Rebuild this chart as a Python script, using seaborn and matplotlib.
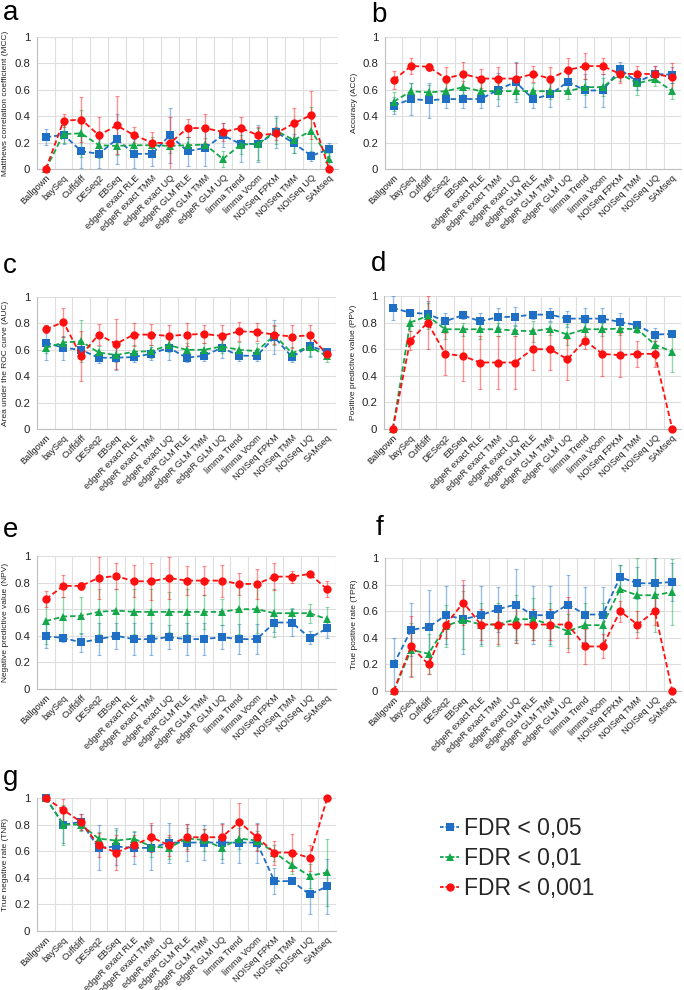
import numpy as np
import pandas as pd
import matplotlib
matplotlib.use("Agg")
import matplotlib.pyplot as plt
import seaborn as sns
from matplotlib.lines import Line2D

sns.set_style("white")
plt.rcParams["font.family"] = ["Liberation Sans", "DejaVu Sans"]

methods = ["Ballgown", "baySeq", "Cuffdiff", "DESeq2", "EBSeq", "edgeR exact RLE",
           "edgeR exact TMM", "edgeR exact UQ", "edgeR GLM RLE", "edgeR GLM TMM",
           "edgeR GLM UQ", "limma Trend", "limma Voom", "NOISeq FPKM", "NOISeq TMM",
           "NOISeq UQ", "SAMseq"]
fdr_labels = ["FDR < 0,05", "FDR < 0,01", "FDR < 0,001"]
ytick_vals = [0, 0.2, 0.4, 0.6, 0.8, 1]
ytick_labels = ["0", "0.2", "0.4", "0.6", "0.8", "1"]

# ---- a: MCC
mcc_05 = [0.24, 0.26, 0.135, 0.115, 0.225, 0.115, 0.115, 0.255, 0.135, 0.16, 0.255, 0.19, 0.19, 0.28, 0.195, 0.10, 0.15]
mcc_01 = [0.0, 0.265, 0.27, 0.18, 0.175, 0.18, 0.18, 0.175, 0.18, 0.185, 0.075, 0.185, 0.19, 0.29, 0.22, 0.29, 0.075]
mcc_001 = [0.0, 0.365, 0.375, 0.255, 0.33, 0.255, 0.20, 0.195, 0.31, 0.31, 0.28, 0.31, 0.255, 0.27, 0.345, 0.41, 0.0]
mcc_05_err = [0.06, 0.07, 0.13, 0.11, 0.19, 0.11, 0.09, 0.21, 0.11, 0.14, 0.09, 0.14, 0.14, 0.12, 0.07, 0.04, 0.05]
mcc_01_err = [0.0, 0.07, 0.18, 0.10, 0.07, 0.06, 0.06, 0.05, 0.06, 0.05, 0.06, 0.07, 0.12, 0.10, 0.10, 0.18, 0.05]
mcc_001_err = [0.0, 0.05, 0.17, 0.14, 0.22, 0.06, 0.08, 0.20, 0.07, 0.11, 0.07, 0.085, 0.06, 0.05, 0.12, 0.18, 0.0]

# ---- b: ACC
acc_05 = [0.48, 0.53, 0.52, 0.53, 0.53, 0.53, 0.60, 0.66, 0.53, 0.565, 0.66, 0.595, 0.595, 0.755, 0.66, 0.72, 0.715]
acc_01 = [0.51, 0.59, 0.58, 0.59, 0.62, 0.59, 0.59, 0.59, 0.59, 0.59, 0.59, 0.62, 0.62, 0.72, 0.65, 0.68, 0.59]
acc_001 = [0.675, 0.78, 0.775, 0.685, 0.72, 0.685, 0.685, 0.685, 0.72, 0.685, 0.75, 0.78, 0.78, 0.72, 0.72, 0.72, 0.695]
acc_05_err = [0.065, 0.12, 0.13, 0.065, 0.065, 0.065, 0.125, 0.15, 0.065, 0.095, 0.06, 0.125, 0.125, 0.055, 0.06, 0.06, 0.06]
acc_01_err = [0.07, 0.06, 0.06, 0.06, 0.05, 0.06, 0.06, 0.06, 0.06, 0.06, 0.06, 0.06, 0.07, 0.05, 0.09, 0.05, 0.06]
acc_001_err = [0.07, 0.06, 0.03, 0.09, 0.09, 0.07, 0.09, 0.12, 0.06, 0.09, 0.09, 0.10, 0.06, 0.07, 0.06, 0.06, 0.11]

# ---- c: AUC
auc_05 = [0.655, 0.615, 0.60, 0.54, 0.54, 0.545, 0.57, 0.615, 0.54, 0.555, 0.615, 0.555, 0.555, 0.695, 0.545, 0.63, 0.585]
auc_01 = [0.615, 0.655, 0.665, 0.58, 0.56, 0.585, 0.59, 0.635, 0.60, 0.60, 0.625, 0.60, 0.59, 0.71, 0.575, 0.625, 0.55]
auc_001 = [0.755, 0.81, 0.555, 0.715, 0.645, 0.715, 0.715, 0.705, 0.715, 0.72, 0.705, 0.74, 0.735, 0.715, 0.70, 0.71, 0.565]
auc_05_err = [0.13, 0.09, 0.06, 0.04, 0.09, 0.04, 0.05, 0.09, 0.03, 0.04, 0.08, 0.04, 0.04, 0.13, 0.04, 0.08, 0.03]
auc_01_err = [0.04, 0.04, 0.16, 0.05, 0.05, 0.05, 0.05, 0.05, 0.05, 0.05, 0.05, 0.06, 0.06, 0.07, 0.05, 0.08, 0.04]
auc_001_err = [0.03, 0.11, 0.19, 0.08, 0.19, 0.085, 0.08, 0.08, 0.085, 0.07, 0.085, 0.07, 0.07, 0.07, 0.09, 0.08, 0.03]

# ---- d: PPV
ppv_05 = [0.91, 0.875, 0.865, 0.81, 0.855, 0.81, 0.84, 0.845, 0.86, 0.86, 0.83, 0.83, 0.83, 0.805, 0.78, 0.71, 0.715]
ppv_01 = [0.0, 0.80, 0.85, 0.75, 0.75, 0.75, 0.75, 0.74, 0.735, 0.755, 0.71, 0.75, 0.75, 0.755, 0.75, 0.635, 0.58]
ppv_001 = [0.0, 0.665, 0.80, 0.565, 0.55, 0.50, 0.50, 0.50, 0.60, 0.60, 0.525, 0.665, 0.565, 0.555, 0.565, 0.565, 0.0]
ppv_05_err = [0.09, 0.02, 0.10, 0.06, 0.03, 0.06, 0.07, 0.07, 0.03, 0.05, 0.06, 0.08, 0.08, 0.07, 0.03, 0.05, 0.0]
ppv_01_err = [0.0, 0.06, 0.10, 0.07, 0.05, 0.07, 0.05, 0.04, 0.08, 0.05, 0.08, 0.05, 0.05, 0.05, 0.03, 0.05, 0.15]
ppv_001_err = [0.0, 0.07, 0.20, 0.16, 0.19, 0.20, 0.20, 0.20, 0.155, 0.155, 0.155, 0.065, 0.165, 0.165, 0.10, 0.10, 0.0]

# ---- e: NPV
npv_05 = [0.395, 0.385, 0.35, 0.375, 0.40, 0.375, 0.375, 0.39, 0.375, 0.375, 0.39, 0.375, 0.375, 0.50, 0.50, 0.385, 0.455]
npv_01 = [0.51, 0.545, 0.55, 0.58, 0.59, 0.58, 0.58, 0.58, 0.58, 0.58, 0.58, 0.60, 0.60, 0.57, 0.57, 0.57, 0.525]
npv_001 = [0.675, 0.775, 0.775, 0.835, 0.85, 0.81, 0.81, 0.835, 0.815, 0.815, 0.815, 0.79, 0.79, 0.845, 0.845, 0.865, 0.75]
npv_05_err = [0.09, 0.03, 0.07, 0.12, 0.10, 0.12, 0.12, 0.09, 0.12, 0.12, 0.09, 0.11, 0.11, 0.07, 0.10, 0.05, 0.07]
npv_01_err = [0.17, 0.15, 0.14, 0.17, 0.16, 0.17, 0.17, 0.15, 0.17, 0.13, 0.10, 0.19, 0.18, 0.18, 0.04, 0.07, 0.09]
npv_001_err = [0.06, 0.08, 0.03, 0.16, 0.10, 0.12, 0.14, 0.16, 0.11, 0.11, 0.12, 0.08, 0.11, 0.10, 0.045, 0.02, 0.06]

# ---- f: TPR
tpr_05 = [0.20, 0.46, 0.48, 0.57, 0.54, 0.57, 0.615, 0.65, 0.57, 0.57, 0.65, 0.575, 0.575, 0.855, 0.81, 0.81, 0.82]
tpr_01 = [0.0, 0.31, 0.28, 0.49, 0.535, 0.50, 0.50, 0.54, 0.54, 0.50, 0.45, 0.495, 0.495, 0.765, 0.72, 0.72, 0.745]
tpr_001 = [0.0, 0.335, 0.20, 0.50, 0.665, 0.50, 0.50, 0.50, 0.50, 0.50, 0.50, 0.335, 0.335, 0.60, 0.50, 0.60, 0.0]
tpr_05_err = [0.20, 0.20, 0.28, 0.22, 0.26, 0.22, 0.17, 0.27, 0.22, 0.22, 0.22, 0.21, 0.21, 0.09, 0.12, 0.19, 0.14]
tpr_01_err = [0.0, 0.20, 0.15, 0.16, 0.22, 0.16, 0.16, 0.18, 0.16, 0.16, 0.13, 0.17, 0.17, 0.18, 0.28, 0.28, 0.25]
tpr_001_err = [0.0, 0.23, 0.07, 0.10, 0.17, 0.12, 0.15, 0.14, 0.12, 0.12, 0.21, 0.13, 0.09, 0.08, 0.10, 0.10, 0.0]

# ---- g: TNR
tnr_05 = [1.0, 0.80, 0.82, 0.625, 0.635, 0.625, 0.625, 0.665, 0.665, 0.665, 0.665, 0.665, 0.665, 0.375, 0.375, 0.275, 0.335]
tnr_01 = [1.0, 0.80, 0.80, 0.695, 0.68, 0.695, 0.635, 0.625, 0.695, 0.685, 0.625, 0.695, 0.68, 0.59, 0.495, 0.415, 0.44]
tnr_001 = [1.0, 0.91, 0.82, 0.645, 0.59, 0.645, 0.705, 0.645, 0.705, 0.705, 0.705, 0.82, 0.705, 0.59, 0.59, 0.55, 1.0]
tnr_05_err = [0.0, 0.14, 0.06, 0.17, 0.14, 0.12, 0.17, 0.15, 0.14, 0.13, 0.15, 0.15, 0.15, 0.10, 0.02, 0.15, 0.21]
tnr_01_err = [0.0, 0.15, 0.05, 0.05, 0.08, 0.06, 0.08, 0.08, 0.08, 0.08, 0.08, 0.08, 0.07, 0.06, 0.07, 0.09, 0.25]
tnr_001_err = [0.0, 0.08, 0.06, 0.09, 0.13, 0.08, 0.11, 0.08, 0.10, 0.06, 0.10, 0.14, 0.10, 0.09, 0.14, 0.10, 0.0]

colors = {"FDR < 0,05": "#1F6FC5", "FDR < 0,01": "#14A84A", "FDR < 0,001": "#FF1010"}
markers = {"FDR < 0,05": "s", "FDR < 0,01": "^", "FDR < 0,001": "o"}
dashes = {k: (3, 1.6) for k in fdr_labels}

W, H = 684, 990
fig = plt.figure(figsize=(W / 100, H / 100), dpi=100)


def rect(x0, y0, x1, y1):
    return [x0 / W, 1 - y1 / H, (x1 - x0) / W, (y1 - y0) / H]


panels = [
    ("a", "Matthews correlation coefficient (MCC)", rect(37, 37, 338, 169), (3, 13),
     [mcc_05, mcc_01, mcc_001], [mcc_05_err, mcc_01_err, mcc_001_err]),
    ("b", "Accuracy (ACC)", rect(385, 37, 681, 169), (371, 15),
     [acc_05, acc_01, acc_001], [acc_05_err, acc_01_err, acc_001_err]),
    ("c", "Area under the ROC curve (AUC)", rect(37, 297, 336, 429), (3, 266),
     [auc_05, auc_01, auc_001], [auc_05_err, auc_01_err, auc_001_err]),
    ("d", "Positive predictive value (PPV)", rect(384, 296, 681, 429), (371, 264),
     [ppv_05, ppv_01, ppv_001], [ppv_05_err, ppv_01_err, ppv_001_err]),
    ("e", "Negative predictive value (NPV)", rect(37, 556, 336, 689), (3, 530),
     [npv_05, npv_01, npv_001], [npv_05_err, npv_01_err, npv_001_err]),
    ("f", "True positive rate (TPR)", rect(385, 558, 681, 691), (376, 528),
     [tpr_05, tpr_01, tpr_001], [tpr_05_err, tpr_01_err, tpr_001_err]),
    ("g", "True negative rate (TNR)", rect(37, 798, 336, 931), (3, 778),
     [tnr_05, tnr_01, tnr_001], [tnr_05_err, tnr_01_err, tnr_001_err]),
]

for letter, ylabel, r, (lx, ly), vals, errs in panels:
    ax = fig.add_axes(r)
    df = pd.DataFrame({
        "method": methods * 3,
        "FDR": np.repeat(fdr_labels, len(methods)),
        "value": np.concatenate(vals),
    })
    sns.lineplot(data=df, x="method", y="value", hue="FDR", style="FDR",
                 palette=colors, markers=markers, dashes=dashes, sort=False,
                 errorbar=None, legend=False, ax=ax, linewidth=1.3,
                 markersize=6, markeredgewidth=0, zorder=4)
    for ln in ax.lines:
        ln.set_clip_on(False)
    for lab, v, e in zip(fdr_labels, vals, errs):
        ax.errorbar(methods, v, yerr=e, fmt="none", ecolor=colors[lab], alpha=0.45,
                    elinewidth=1.0, capsize=1.5, capthick=0.8, zorder=2)
    ax.set_xlim(-0.5, len(methods) - 0.5)
    ax.set_ylim(0, 1)
    ax.set_xticks(range(len(methods)))
    ax.set_xticklabels(methods, rotation=45, ha="right", rotation_mode="anchor",
                       fontsize=6.7, color="#222222")
    ax.set_xticks(np.arange(-0.5, len(methods), 1), minor=True)
    ax.set_yticks(ytick_vals)
    ax.set_yticklabels(ytick_labels, fontsize=8.2, color="#222222")
    ax.tick_params(axis="x", which="major", length=0, pad=3)
    ax.tick_params(axis="x", which="minor", length=3, color="#bfbfbf", width=0.8)
    ax.tick_params(axis="y", which="major", length=3, color="#bfbfbf", width=0.8, pad=2)
    ax.grid(True, which="minor", axis="x", color="#dedede", linewidth=0.8)
    ax.grid(True, which="major", axis="y", color="#dedede", linewidth=0.8)
    ax.grid(False, which="major", axis="x")
    ax.set_axisbelow(True)
    for s in ["top", "right"]:
        ax.spines[s].set_visible(False)
    for s in ["left", "bottom"]:
        ax.spines[s].set_color("#bfbfbf")
        ax.spines[s].set_linewidth(0.8)
    ax.set_xlabel("")
    ax.set_ylabel(ylabel, fontsize=6.0, color="#222222")
    ax.yaxis.set_label_coords(-0.092, 0.5)
    fig.text(lx / W, 1 - ly / H, letter, fontsize=20, ha="left", va="center", color="black")

handles = [Line2D([], [], color=colors[k], marker=markers[k], linestyle=(0, (2, 1)),
                  linewidth=1.3, markersize=6, markeredgewidth=0) for k in fdr_labels]
fig.legend(handles, fdr_labels, loc="upper left", bbox_to_anchor=(440 / W, 1 - 817 / H),
           frameon=False, fontsize=16.5, handlelength=0.85, handletextpad=0.2,
           labelspacing=0.3, borderpad=0, borderaxespad=0)

fig.savefig("out.png", dpi=100)
